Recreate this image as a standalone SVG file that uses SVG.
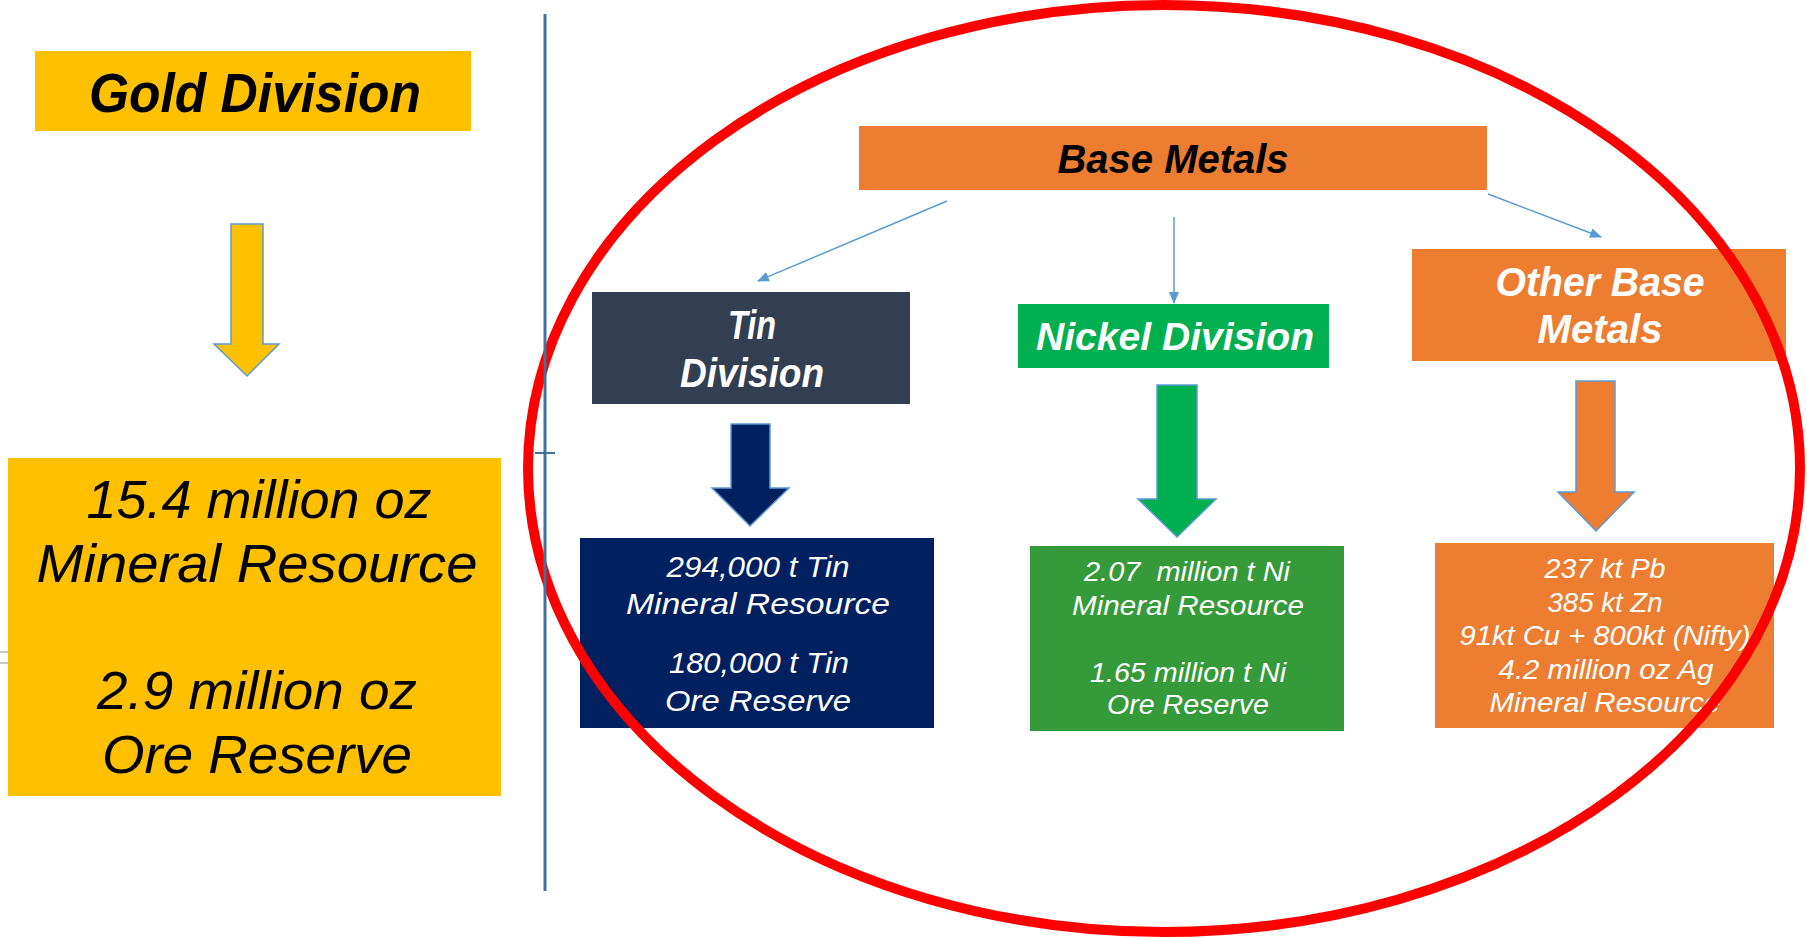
<svg xmlns="http://www.w3.org/2000/svg" width="1807" height="938" viewBox="0 0 1807 938">
<style>
.h{font-family:"Liberation Sans",Arial,sans-serif;font-style:italic;font-weight:bold;text-anchor:middle}
.d{font-family:"Liberation Sans",Arial,sans-serif;font-style:italic;font-weight:normal;text-anchor:middle}
.blk{stroke:#5B9BD5;stroke-width:1.5}
.con{stroke:#5B9BD5;stroke-width:1.5;fill:none}
</style>
<defs>
<marker id="ah" viewBox="0 0 12 10" refX="11" refY="5" markerWidth="12" markerHeight="10" markerUnits="userSpaceOnUse" orient="auto">
<path d="M0,0 L12,5 L0,10 Z" fill="#5B9BD5"/>
</marker>
</defs>
<rect width="1807" height="938" fill="#FFFFFF"/>
<rect x="-4" y="652" width="20" height="11" fill="none" stroke="#C8C8C8" stroke-width="2"/>

<g id="gold-division">
<rect x="35" y="51" width="436" height="80" fill="#FFC000"/>
<text class="h" x="255" y="112" font-size="56" textLength="332" lengthAdjust="spacingAndGlyphs" fill="#000">Gold Division</text>
</g>
<g id="gold-arrow">
<path class="blk" d="M231,224 H263 V344 H279 L247,376 L214,344 H231 Z" fill="#FFC000"/>
</g>
<g id="gold-data">
<rect x="8" y="458" width="493" height="338" fill="#FFC000"/>
<g class="d" font-size="53" fill="#000">
<text x="259" y="518" textLength="345" lengthAdjust="spacingAndGlyphs">15.4 million oz</text>
<text x="257" y="582" textLength="441" lengthAdjust="spacingAndGlyphs">Mineral Resource</text>
<text x="257" y="709" textLength="320" lengthAdjust="spacingAndGlyphs">2.9 million oz</text>
<text x="257" y="773" textLength="310" lengthAdjust="spacingAndGlyphs">Ore Reserve</text>
</g>
</g>

<g id="base-metals">
<rect x="859" y="126" width="628" height="64" fill="#ED7D31"/>
<text class="h" x="1173" y="173" font-size="40" textLength="231" lengthAdjust="spacingAndGlyphs" fill="#000">Base Metals</text>
</g>

<g id="tin-division">
<rect x="592" y="292" width="318" height="112" fill="#333F50"/>
<text class="h" x="752" y="339" font-size="40" textLength="48" lengthAdjust="spacingAndGlyphs" fill="#FFF">Tin</text>
<text class="h" x="752" y="387" font-size="40" textLength="144" lengthAdjust="spacingAndGlyphs" fill="#FFF">Division</text>
</g>
<g id="tin-arrow">
<path class="blk" d="M731,424 H770 V488 H789 L750,526 L712,488 H731 Z" fill="#002060"/>
</g>
<g id="tin-data">
<rect x="580" y="538" width="354" height="190" fill="#002060"/>
<g class="d" font-size="30" fill="#FFF">
<text x="758" y="577" textLength="183" lengthAdjust="spacingAndGlyphs">294,000 t Tin</text>
<text x="758" y="614" textLength="264" lengthAdjust="spacingAndGlyphs">Mineral Resource</text>
<text x="759" y="673" textLength="180" lengthAdjust="spacingAndGlyphs">180,000 t Tin</text>
<text x="758" y="711" textLength="186" lengthAdjust="spacingAndGlyphs">Ore Reserve</text>
</g>
</g>

<g id="nickel-division">
<rect x="1018" y="304" width="311" height="64" fill="#00B050"/>
<text class="h" x="1175" y="350" font-size="39" textLength="278" lengthAdjust="spacingAndGlyphs" fill="#FFF">Nickel Division</text>
</g>
<g id="nickel-arrow">
<path class="blk" d="M1157,385 H1197 V499 H1216 L1177,537 L1138,499 H1157 Z" fill="#00B050"/>
</g>
<g id="nickel-data">
<rect x="1030" y="546" width="314" height="185" fill="#359A3A"/>
<g class="d" font-size="28" fill="#FFF">
<text x="1187" y="581" textLength="206" lengthAdjust="spacingAndGlyphs" style="white-space:pre">2.07  million t Ni</text>
<text x="1188" y="615" textLength="232" lengthAdjust="spacingAndGlyphs">Mineral Resource</text>
<text x="1188" y="682" textLength="196" lengthAdjust="spacingAndGlyphs">1.65 million t Ni</text>
<text x="1188" y="714" textLength="162" lengthAdjust="spacingAndGlyphs">Ore Reserve</text>
</g>
</g>

<g id="other-base-metals">
<rect x="1412" y="249" width="374" height="112" fill="#ED7D31"/>
<text class="h" x="1600" y="296" font-size="40" textLength="209" lengthAdjust="spacingAndGlyphs" fill="#FFF">Other Base</text>
<text class="h" x="1600" y="343" font-size="40" textLength="125" lengthAdjust="spacingAndGlyphs" fill="#FFF">Metals</text>
</g>
<g id="other-arrow">
<path class="blk" d="M1576,381 H1615 V492 H1634 L1596,531 L1558,492 H1576 Z" fill="#ED7D31"/>
</g>
<g id="other-data">
<rect x="1435" y="543" width="339" height="185" fill="#ED7D31"/>
<g class="d" font-size="28" fill="#FFF">
<text x="1605" y="578" textLength="121" lengthAdjust="spacingAndGlyphs">237 kt Pb</text>
<text x="1605" y="612" textLength="115" lengthAdjust="spacingAndGlyphs">385 kt Zn</text>
<text x="1605" y="645" textLength="291" lengthAdjust="spacingAndGlyphs">91kt Cu + 800kt (Nifty)</text>
<text x="1606" y="679" textLength="215" lengthAdjust="spacingAndGlyphs">4.2 million oz Ag</text>
<text x="1605" y="712" textLength="231" lengthAdjust="spacingAndGlyphs">Mineral Resource</text>
</g>
</g>

<g id="connectors">
<line class="con" x1="947" y1="201" x2="758" y2="281" marker-end="url(#ah)"/>
<line class="con" x1="1174" y1="217" x2="1174" y2="303" marker-end="url(#ah)"/>
<line class="con" x1="1488" y1="194" x2="1601" y2="237" marker-end="url(#ah)"/>
</g>

<g id="highlight-ellipse">
<ellipse cx="1164" cy="468.5" rx="636" ry="463.5" fill="none" stroke="#FF0000" stroke-width="10"/>
</g>

<g id="divider">
<line x1="545" y1="14" x2="545" y2="891" stroke="#41719C" stroke-width="3"/>
<line x1="535" y1="453" x2="555" y2="453" stroke="#41719C" stroke-width="2"/>
</g>
</svg>
